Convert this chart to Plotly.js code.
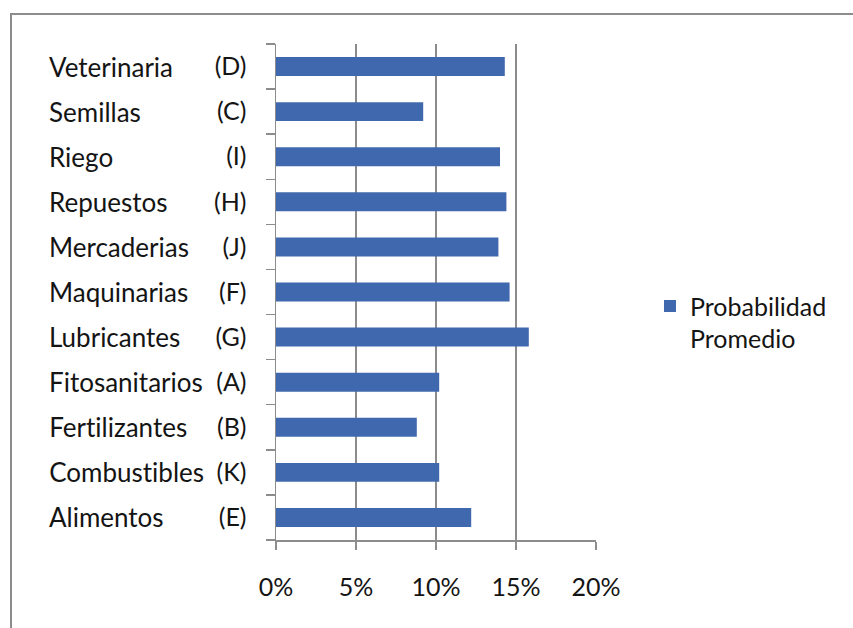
<!DOCTYPE html>
<html>
<head>
<meta charset="utf-8">
<script src="https://cdn.plot.ly/plotly-3.0.1.min.js"></script>
<style>
  html, body { margin: 0; padding: 0; background: #fff; }
  #chart { position: absolute; left: 0; top: 0; width: 853px; height: 628px; }
  #chart text { font-variant-ligatures: none; font-feature-settings: "liga" 0, "clig" 0; }
  #frame { position: absolute; left: 10px; top: 13px; width: 900px; height: 700px;
           border: 2px solid #8c8c8c; pointer-events: none; }
</style>
</head>
<body>
<div id="chart"></div>
<div id="frame"></div>
<script>
// Data (top to bottom as in the chart)
const names   = ["Veterinaria", "Semillas", "Riego", "Repuestos", "Mercaderias", "Maquinarias",
                 "Lubricantes", "Fitosanitarios", "Fertilizantes", "Combustibles", "Alimentos"];
const letters = ["(D)", "(C)", "(I)", "(H)", "(J)", "(F)", "(G)", "(A)", "(B)", "(K)", "(E)"];
const values  = [0.143, 0.092, 0.140, 0.144, 0.139, 0.146, 0.158, 0.102, 0.088, 0.102, 0.122];
const seriesName = "Probabilidad<br>Promedio";
const xTickVals = [0, 0.05, 0.10, 0.15, 0.20];
const xTickText = ["0%", "5%", "10%", "15%", "20%"];

const FONT = "Lato, 'Open Sans', sans-serif";
const TXT = "#141414";
const FS = 25;

const trace = {
  type: "bar",
  orientation: "h",
  y: letters,
  x: values,
  name: seriesName,
  marker: { color: "#4068ae" },
  showlegend: true,
  hoverinfo: "x+y"
};

const annotations = names.map((n, i) => ({
  xref: "paper", yref: "y",
  x: -0.715, y: letters[i],
  xanchor: "left", yanchor: "middle",
  text: n, showarrow: false,
  font: { family: FONT, size: 26, color: TXT }
}));

const layout = {
  width: 853, height: 628,
  margin: { l: 276, r: 257, t: 44, b: 88 },
  paper_bgcolor: "#ffffff",
  plot_bgcolor: "#ffffff",
  font: { family: FONT, size: FS, color: TXT },
  bargap: 0.58,
  xaxis: {
    range: [0, 0.2],
    tickvals: xTickVals,
    ticktext: xTickText,
    showgrid: true,
    gridcolor: "#8c8c8c",
    gridwidth: 1.5,
    zeroline: false,
    showline: true,
    linecolor: "#8c8c8c",
    linewidth: 1.5,
    ticks: "outside",
    ticklen: 8,
    tickwidth: 1.5,
    tickcolor: "#8c8c8c",
    ticklabelstandoff: 16,
    tickfont: { family: FONT, size: FS, color: TXT },
    fixedrange: true
  },
  yaxis: {
    type: "category",
    categoryorder: "array",
    categoryarray: letters.slice().reverse(),
    autorange: true,
    showline: true,
    linecolor: "#8c8c8c",
    linewidth: 1.5,
    ticks: "outside",
    tickson: "boundaries",
    ticklen: 9,
    tickwidth: 1.5,
    tickcolor: "#8c8c8c",
    ticklabelstandoff: 23,
    tickfont: { family: FONT, size: FS, color: TXT },
    showgrid: false,
    zeroline: false,
    fixedrange: true
  },
  showlegend: true,
  legend: {
    xref: "container", yref: "container",
    x: 0.762, y: 0.487,
    xanchor: "left", yanchor: "middle",
    valign: "top",
    font: { family: FONT, size: FS, color: TXT },
    bgcolor: "rgba(0,0,0,0)"
  },
  annotations: annotations
};

Plotly.newPlot("chart", [trace], layout, { displayModeBar: false, staticPlot: true });
</script>
</body>
</html>
